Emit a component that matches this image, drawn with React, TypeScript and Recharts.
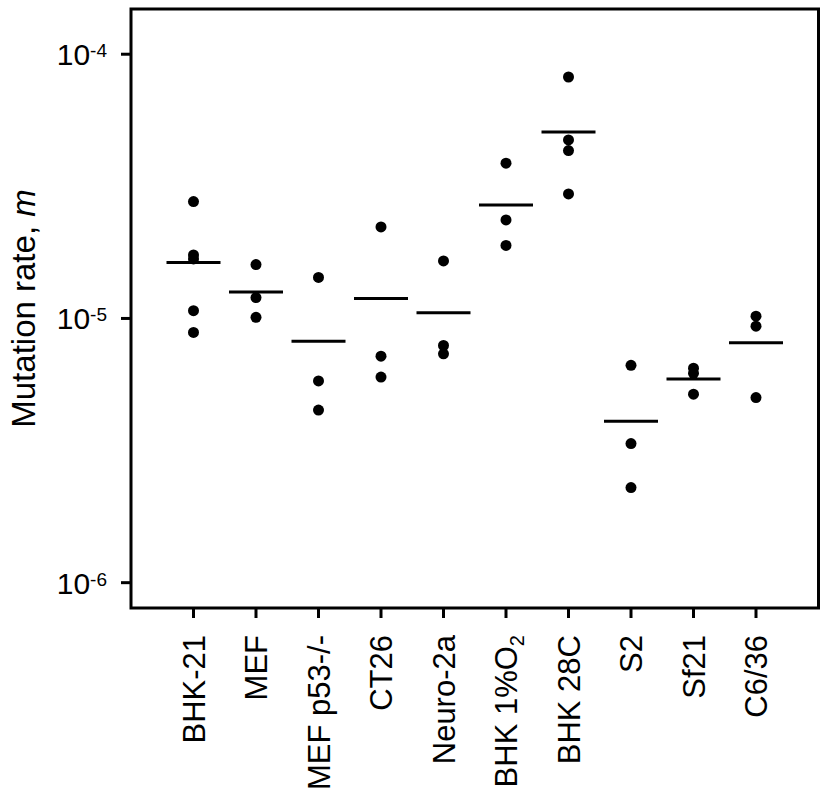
import React from 'react';
import { ScatterChart, Scatter, XAxis, YAxis, ReferenceArea, Label } from 'recharts';

const categories = ['BHK-21', 'MEF', 'MEF p53-/-', 'CT26', 'Neuro-2a', 'BHK 1%O2', 'BHK 28C', 'S2', 'Sf21', 'C6/36'];

const bhk21 = [2.77e-5, 1.74e-5, 1.68e-5, 1.07e-5, 8.85e-6];
const mef = [1.6e-5, 1.2e-5, 1.01e-5];
const mefP53 = [1.43e-5, 5.8e-6, 4.5e-6];
const ct26 = [2.22e-5, 7.2e-6, 6.0e-6];
const neuro2a = [1.65e-5, 7.9e-6, 7.35e-6];
const bhk1o2 = [3.87e-5, 2.36e-5, 1.89e-5];
const bhk28c = [8.2e-5, 4.74e-5, 4.32e-5, 2.96e-5];
const s2 = [6.65e-6, 3.36e-6, 2.29e-6];
const sf21 = [6.48e-6, 6.2e-6, 5.17e-6];
const c636 = [1.02e-5, 9.35e-6, 5.02e-6];

const seriesValues = [bhk21, mef, mefP53, ct26, neuro2a, bhk1o2, bhk28c, s2, sf21, c636];

const means = [1.63e-5, 1.26e-5, 8.2e-6, 1.19e-5, 1.05e-5, 2.69e-5, 5.08e-5, 4.08e-6, 5.9e-6, 8.1e-6];

const yTicks = [1e-6, 1e-5, 1e-4];
const yTickExponents = ['-6', '-5', '-4'];
const yDomain: [number, number] = [8.02e-7, 1.483e-4];
const xDomain: [number, number] = [0, 11];
const xTicks = categories.map((_, i) => i + 1);

const points = seriesValues.flatMap((vals, i) => vals.map((v) => ({ x: i + 1, y: v })));
const meanPoints = means.map((m, i) => ({ x: i + 1, y: m }));

const FONT = '"Liberation Sans", Arial, sans-serif';

const Dot = (props: any) => {
  const { cx, cy } = props;
  if (cx == null || cy == null) return null;
  return <circle cx={cx} cy={cy} r={5.5} fill="#000" />;
};

const MeanLine = (props: any) => {
  const { cx, cy } = props;
  if (cx == null || cy == null) return null;
  return <line x1={cx - 27} x2={cx + 27} y1={cy} y2={cy} stroke="#000" strokeWidth={3} />;
};

const XTick = (props: any) => {
  const { x, y, payload } = props;
  const name = categories[payload.value - 1] ?? '';
  const isO2 = name === 'BHK 1%O2';
  return (
    <g transform={`translate(${x + 11},${y + 15}) rotate(-90)`}>
      <text x={0} y={0} textAnchor="end" fontFamily={FONT} fontSize={31} fill="#000">
        {isO2 ? (
          <>
            <tspan>BHK 1%O</tspan>
            <tspan fontSize={20} dy={7}>2</tspan>
          </>
        ) : (
          name
        )}
      </text>
    </g>
  );
};

const YTick = (props: any) => {
  const { x, y, payload } = props;
  const idx = yTicks.indexOf(payload.value);
  const exp = yTickExponents[idx] ?? '';
  return (
    <text x={x - 12} y={y + 11} textAnchor="end" fontFamily={FONT} fontSize={30} fill="#000">
      <tspan>10</tspan>
      <tspan fontSize={19} dy={-8}>{exp}</tspan>
    </text>
  );
};

const YLabel = (props: any) => {
  const vb = props.viewBox || { x: 0, y: 9, width: 131, height: 599 };
  const cx = 35;
  const cy = vb.y + vb.height / 2;
  return (
    <text
      x={cx}
      y={cy}
      transform={`rotate(-90, ${cx}, ${cy})`}
      textAnchor="middle"
      fontFamily={FONT}
      fontSize={33}
      fill="#000"
    >
      <tspan>Mutation rate, </tspan>
      <tspan fontStyle="italic">m</tspan>
    </text>
  );
};

export default function App() {
  return (
    <div style={{ position: 'absolute', left: 0, top: 0, width: 837, height: 800, background: '#fff' }}>
      <ScatterChart width={837} height={800} margin={{ top: 9, right: 18.5, bottom: 0, left: 0 }}>
        <XAxis
          type="number"
          dataKey="x"
          domain={xDomain}
          ticks={xTicks}
          allowDataOverflow
          height={192}
          axisLine={false}
          tickLine={{ stroke: '#000', strokeWidth: 3 }}
          tickSize={10}
          tick={<XTick />}
          interval={0}
        />
        <YAxis
          type="number"
          dataKey="y"
          scale="log"
          domain={yDomain}
          ticks={yTicks}
          allowDataOverflow
          width={131}
          axisLine={false}
          tickLine={{ stroke: '#000', strokeWidth: 3 }}
          tickSize={10}
          tick={<YTick />}
          interval={0}
        >
          <Label content={<YLabel />} />
        </YAxis>
        <ReferenceArea
          x1={xDomain[0]}
          x2={xDomain[1]}
          y1={yDomain[0]}
          y2={yDomain[1]}
          fill="none"
          fillOpacity={0}
          stroke="#000"
          strokeWidth={3}
          ifOverflow="visible"
        />
        <Scatter data={meanPoints} shape={<MeanLine />} isAnimationActive={false} />
        <Scatter data={points} shape={<Dot />} isAnimationActive={false} />
      </ScatterChart>
    </div>
  );
}
